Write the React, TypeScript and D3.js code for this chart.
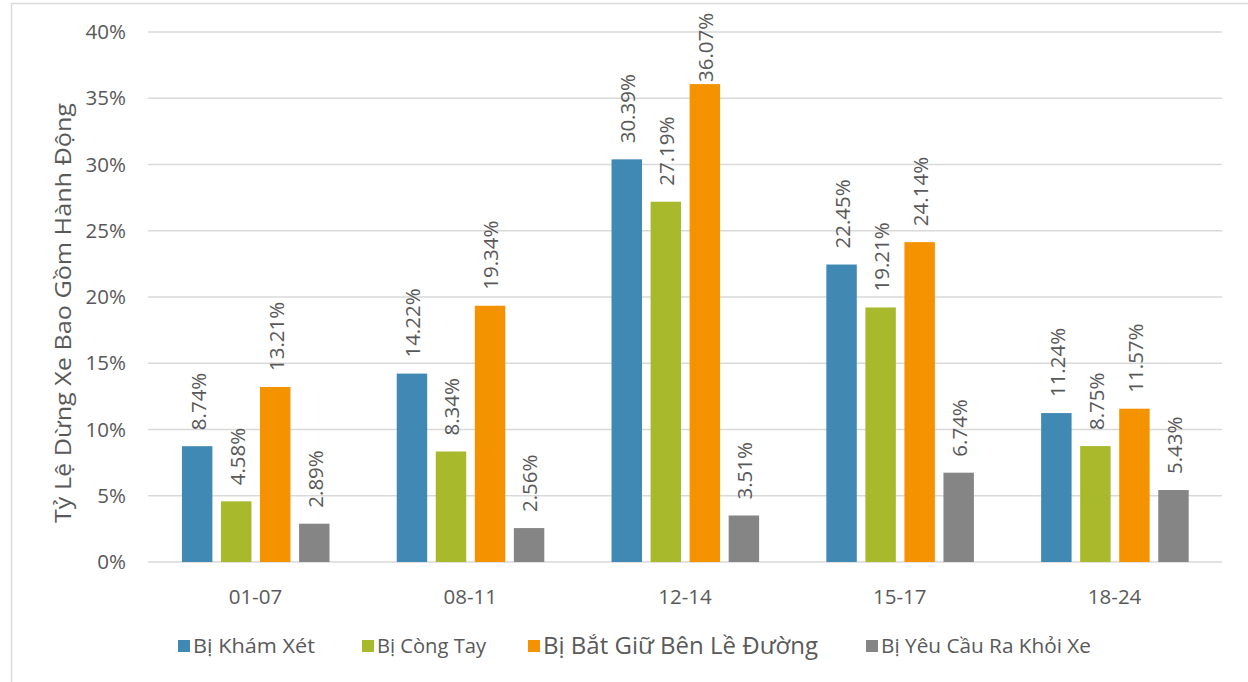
import React from "react";
import * as d3 from "d3";

const categories = ["01-07", "08-11", "12-14", "15-17", "18-24"];
const seriesNames = ["Bị Khám Xét", "Bị Còng Tay", "Bị Bắt Giữ Bên Lề Đường", "Bị Yêu Cầu Ra Khỏi Xe"];
const khamXet = [8.74, 14.22, 30.39, 22.45, 11.24];
const congTay = [4.58, 8.34, 27.19, 19.21, 8.75];
const batGiu = [13.21, 19.34, 36.07, 24.14, 11.57];
const yeuCau = [2.89, 2.56, 3.51, 6.74, 5.43];
const yTicks = [0, 5, 10, 15, 20, 25, 30, 35, 40];
const yTitle = "Tỷ Lệ Dừng Xe Bao Gồm Hành Động";

const seriesValues = [khamXet, congTay, batGiu, yeuCau];
const colors = ["#4089B5", "#A8B92B", "#F59200", "#858585"];

const W = 1248;
const H = 682;
const plotLeft = 148;
const plotRight = 1222;
const plotTop = 32;
const plotBottom = 562;
const textColor = "#595959";
const font = "'Open Sans', sans-serif";

export default function App() {
  const x0 = d3.scaleBand<string>().domain(categories).range([plotLeft, plotRight]).padding(0);
  const bw = x0.bandwidth();
  const x1 = d3
    .scaleBand<string>()
    .domain(seriesNames)
    .range([bw * 0.158, bw * 0.845])
    .paddingInner(0.22)
    .paddingOuter(0);
  const y = d3.scaleLinear().domain([0, 40]).range([plotBottom, plotTop]);

  const legendX = [178, 362, 528, 866];
  const legendFont = [20.5, 20.5, 23.5, 20.5];
  const legendLen = [122, 109, 275, 210];

  return (
    <svg
      width={W}
      height={H}
      style={{ position: "absolute", left: 0, top: 0, background: "#fff" }}
      fontFamily={font}
    >
      <rect x={11.5} y={3.5} width={1260} height={700} fill="#fff" stroke="#d9d9d9" strokeWidth={1.5} />
      {yTicks.map((t) => (
        <g key={t}>
          <line x1={plotLeft} x2={plotRight} y1={y(t)} y2={y(t)} stroke="#d9d9d9" strokeWidth={1.6} />
          <text
            x={126}
            y={y(t)}
            dy="0.35em"
            textAnchor="end"
            fontSize={20.5}
            fill={textColor}
          >
            {t}%
          </text>
        </g>
      ))}
      <text
        transform={`translate(71, ${313}) rotate(-90)`}
        textAnchor="middle"
        fontSize={21.5}
        textLength={420}
        lengthAdjust="spacingAndGlyphs"
        fill={textColor}
      >
        {yTitle}
      </text>
      {categories.map((c, ci) => (
        <g key={c}>
          {seriesNames.map((s, si) => {
            const v = seriesValues[si][ci];
            const bx = (x0(c) as number) + (x1(s) as number);
            const by = y(v);
            const cx = bx + x1.bandwidth() / 2;
            const ly = Math.max(by - 16, 82);
            return (
              <g key={s}>
                <rect
                  x={bx}
                  y={by}
                  width={x1.bandwidth()}
                  height={plotBottom - by}
                  fill={colors[si]}
                />
                <text
                  transform={`translate(${cx + 1}, ${ly}) rotate(-90)`}
                  dy="0.36em"
                  textAnchor="start"
                  fontSize={20.5}
                  fill={textColor}
                >
                  {v.toFixed(2)}%
                </text>
              </g>
            );
          })}
          <text
            x={(x0(c) as number) + bw / 2}
            y={597}
            dy="0.35em"
            textAnchor="middle"
            fontSize={20.5}
            fill={textColor}
          >
            {c}
          </text>
        </g>
      ))}
      {seriesNames.map((s, si) => (
        <g key={s} transform={`translate(${legendX[si]}, 646)`}>
          <rect x={0} y={-6} width={12} height={12} fill={colors[si]} />
          <text
            x={15}
            y={0}
            dy="0.35em"
            fontSize={legendFont[si]}
            textLength={legendLen[si]}
            lengthAdjust="spacingAndGlyphs"
            fill={textColor}
          >
            {s}
          </text>
        </g>
      ))}
    </svg>
  );
}
